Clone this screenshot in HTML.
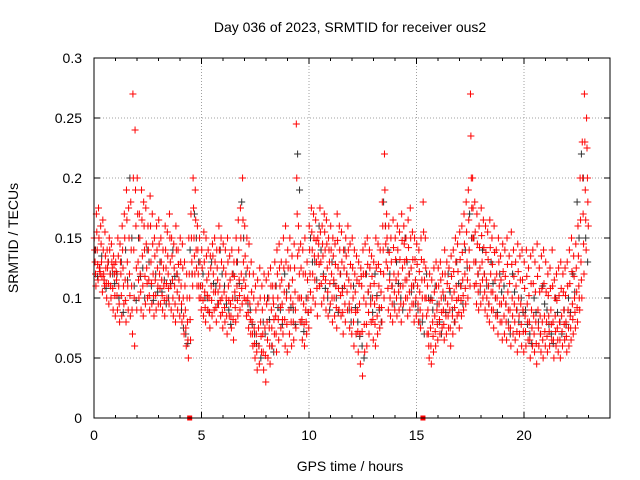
<!DOCTYPE html>
<html><head><meta charset="utf-8"><style>
html,body{margin:0;padding:0;background:#fff;}
svg{display:block;font-family:"Liberation Sans",sans-serif;}
</style></head><body>
<svg id="chart" width="640" height="480">
<text x="350" y="32" font-size="14" text-anchor="middle">Day 036 of 2023, SRMTID for receiver ous2</text>
<text x="350" y="471" font-size="14" text-anchor="middle">GPS time / hours</text>
<text transform="translate(18,238) rotate(-90)" font-size="14" text-anchor="middle">SRMTID / TECUs</text>
<g id="grid"></g><g id="ticks"></g><g id="black"></g><g id="red"></g>
<rect x="94" y="58" width="516" height="360" fill="none" stroke="#000" stroke-width="1"/>
</svg>
<script>
const xTicks=[0,5,10,15,20];
const yTicks=[0,0.05,0.1,0.15,0.2,0.25,0.3];
const yTickLabels=["0","0.05","0.1","0.15","0.2","0.25","0.3"];
const redStep=0.1;
const redA=[150,170,175,160,165,155,140,150,145,135,130,150,145,160,170,190,175,180,270,240,200,170,190,180,175,160,185,170,150,160,165,150,140,160,155,170,150,145,160,140,150,145,130,120,150,170,200,190,160,150,140,155,150,140,135,145,150,140,160,150,145,140,150,135,140,130,150,165,175,200,160,150,145,130,120,110,115,125,110,120,115,120,125,110,130,140,145,130,150,160,140,150,135,145,245,160,145,140,150,130,160,175,170,165,150,175,160,170,165,150,160,150,145,170,160,155,140,150,160,145,150,140,135,130,125,140,145,150,140,135,130,150,145,140,180,220,170,160,150,165,150,160,155,170,160,150,165,175,155,150,145,140,150,180,150,110,120,115,125,130,125,130,120,140,130,125,135,140,150,145,155,160,170,180,190,270,200,180,170,160,175,165,160,155,165,150,160,140,150,135,145,140,150,135,155,140,130,145,135,140,130,140,125,135,140,130,145,125,135,140,130,120,125,140,115,120,125,130,120,125,130,140,150,135,145,160,200,230,270,250];
const redD=[140,155,150,145,140,135,125,140,130,128,122,135,130,140,150,165,150,140,200,190,170,150,165,160,145,140,160,145,135,140,145,130,125,140,135,150,135,125,140,128,130,125,110,100,120,150,175,165,140,130,125,130,135,120,125,135,130,125,140,130,125,120,130,115,120,118,130,140,150,165,135,125,120,105,100,90,95,100,90,100,95,100,110,100,110,120,125,115,125,130,125,125,115,125,200,140,125,120,120,115,140,155,150,148,135,155,145,155,145,140,140,135,128,148,140,130,125,135,140,128,125,120,115,112,118,120,120,128,125,118,112,125,128,122,160,190,150,138,130,142,132,140,132,148,145,132,142,150,132,132,128,122,132,155,125,90,98,98,105,110,110,115,105,120,112,108,118,122,130,122,132,138,145,155,165,235,175,155,145,142,152,142,138,132,142,128,138,120,130,115,122,118,128,112,128,118,110,122,115,115,108,118,102,112,112,105,118,105,108,112,105,102,108,110,100,98,102,108,105,102,110,112,122,118,125,135,165,200,230,225];
const redB=[130,140,125,130,120,125,130,120,125,120,115,110,120,125,115,130,120,110,140,160,130,120,135,140,125,115,130,120,115,125,120,115,110,125,120,130,115,110,120,115,110,100,90,80,100,130,150,140,120,110,110,105,115,100,110,120,105,115,110,100,105,100,110,95,100,105,110,115,120,130,110,100,95,80,75,70,75,80,70,75,80,75,90,95,85,100,110,95,105,100,110,100,95,105,170,120,100,95,90,100,120,140,135,130,145,130,135,140,125,130,120,115,110,125,120,105,110,120,115,110,100,105,90,95,110,100,95,105,110,100,95,100,110,105,140,160,125,115,110,120,115,120,110,125,130,115,120,125,110,115,110,105,115,130,100,70,75,80,85,90,95,100,90,100,95,90,100,105,110,100,110,115,120,130,140,200,150,130,120,125,130,120,115,110,120,105,115,100,110,95,100,95,105,90,100,95,90,100,95,90,85,95,80,90,85,80,90,85,80,85,80,85,90,80,85,75,80,85,90,80,90,85,95,100,105,110,130,170,190,200];
const redE=[120,128,122,118,115,112,112,110,108,102,102,95,102,110,98,110,102,90,100,125,115,105,110,118,112,102,112,102,102,110,108,102,98,112,108,110,100,95,105,100,95,85,75,65,82,120,135,125,110,100,98,92,102,88,98,105,92,105,98,88,92,85,98,85,82,92,98,102,108,115,98,88,82,70,62,55,60,68,55,52,65,60,75,82,70,82,92,82,82,78,90,80,80,90,135,100,82,78,80,88,105,120,115,108,128,112,118,115,105,112,100,100,92,108,102,88,95,105,95,90,80,88,72,70,72,78,78,88,95,82,78,85,92,92,120,145,108,100,95,105,100,105,95,110,115,100,105,110,95,100,95,90,100,115,85,60,60,68,72,78,82,88,78,85,85,75,85,92,98,88,98,102,108,115,125,175,130,112,105,110,115,105,100,95,105,90,100,85,95,80,85,80,90,75,85,80,72,85,78,72,72,80,65,75,70,62,75,70,65,72,68,72,78,65,72,65,65,72,78,68,75,75,82,88,92,100,115,145,165,180];
const redC=[110,115,120,105,110,100,95,100,90,85,90,80,85,95,80,90,85,70,60,90,100,90,85,95,100,90,95,85,90,95,95,90,85,100,95,90,85,80,90,85,80,70,60,50,65,110,120,110,100,90,85,80,90,75,85,90,80,95,85,75,80,70,85,75,65,80,85,90,95,100,85,75,70,60,50,40,45,55,40,30,50,45,60,70,55,65,75,70,60,55,70,60,65,75,100,80,65,60,70,75,90,100,95,85,110,95,100,90,85,95,80,85,75,90,85,70,80,90,75,70,60,70,55,45,35,55,60,70,80,65,60,70,75,80,100,130,90,85,80,90,85,90,80,95,100,85,90,95,80,85,80,75,85,100,70,50,45,55,60,65,70,75,65,70,75,60,70,80,85,75,85,90,95,100,110,150,110,95,90,95,100,90,85,80,90,75,85,70,80,65,70,65,75,60,70,65,55,70,60,55,60,65,50,60,55,45,60,55,50,60,55,60,65,50,60,55,50,60,65,55,60,65,70,75,80,90,100,120,140,160];
const blackStep=0.2;
const blackV=[140,125,115,130,120,120,130,140,200,110,150,125,140,110,120,130,115,100,140,120,90,70,140,170,130,120,100,130,110,140,110,90,120,130,180,120,90,70,60,80,100,60,110,90,120,110,90,220,80,100,150,130,160,120,100,130,100,120,140,90,110,80,60,120,100,120,90,180,140,110,130,100,150,120,110,90,80,120,100,110,80,100,120,90,130,110,140,170,150,120,140,110,130,100,120,110,80,120,90,100,90,70,100,80,110,90,70,100,80,90,100,120,180,220,150];
const blackW=[118,135,108,120,112,100,88,115,150,98,118,100,130,98,105,105,95,112,118,100,75,62,120,150,110,100,88,112,95,120,95,78,100,112,150,95,78,62,50,70,82,55,92,78,105,92,78,190,72,88,130,115,140,108,90,112,88,108,120,80,92,68,50,105,88,102,80,160,120,95,112,90,130,105,95,80,70,100,90,95,70,88,105,80,112,95,125,150,130,105,120,95,112,88,105,95,70,105,80,88,78,62,88,70,95,78,62,88,70,78,88,105,150,200,130];
const markerTimes=[4.45,15.3];

const NS="http://www.w3.org/2000/svg";
const X0=94,X1=610,Y0=418,Y1=58;
const xs=t=>X0+(t/24)*(X1-X0);
const ys=v=>Y0-(v/0.3)*(Y0-Y1);
function mk(tag,attrs,parent){const e=document.createElementNS(NS,tag);for(const k in attrs)e.setAttribute(k,attrs[k]);parent.appendChild(e);return e;}
const grid=document.getElementById('grid'),ticks=document.getElementById('ticks');
xTicks.forEach(t=>{
  const x=xs(t);
  if(t>0){const g=mk('line',{x1:x,x2:x,y1:Y0,y2:Y1,stroke:'#a0a0a0','stroke-dasharray':'1,2'},grid);
  
  }
  mk('line',{x1:x,x2:x,y1:Y0,y2:Y0-6,stroke:'#000'},ticks);
  mk('line',{x1:x,x2:x,y1:Y1,y2:Y1+6,stroke:'#000'},ticks);
  const l=mk('text',{x:x,y:Y0+22,'font-size':14,'text-anchor':'middle'},ticks);l.textContent=t;
  
  
});
yTicks.forEach((v,i)=>{
  const y=ys(v);
  if(v>0&&v<0.3){const g=mk('line',{x1:X0,x2:X1,y1:y,y2:y,stroke:'#a0a0a0','stroke-dasharray':'1,2'},grid);
  
  }
  mk('line',{x1:X0,x2:X0+6,y1:y,y2:y,stroke:'#000'},ticks);
  mk('line',{x1:X1,x2:X1-6,y1:y,y2:y,stroke:'#000'},ticks);
  const l=mk('text',{x:X0-12,y:y+5,'font-size':14,'text-anchor':'end'},ticks);l.textContent=yTickLabels[i];
  
  
});
for(let t=1;t<24;t++){if(t%5){const x=xs(t);mk('line',{x1:x,x2:x,y1:Y0,y2:Y0-3,stroke:'#000'},ticks);mk('line',{x1:x,x2:x,y1:Y1,y2:Y1+3,stroke:'#000'},ticks);}}
function plus(g,t,v,color,name){
  const x=xs(t),y=ys(v);
  const p=mk('path',{d:`M${x-3.5},${y}h7M${x},${y-3.5}v7`,stroke:color,'stroke-width':1},g);
  
  
}
const bg=document.getElementById('black'),rg=document.getElementById('red');
blackV.forEach((v,i)=>plus(bg,i*blackStep+0.07,v/1000,'#303030','black-point'));
blackW.forEach((v,i)=>plus(bg,i*blackStep+0.16,v/1000,'#303030','black-point'));
redA.forEach((v,i)=>plus(rg,i*redStep+0.01,v/1000,'#ff0000','red-point'));
redD.forEach((v,i)=>plus(rg,i*redStep+0.03,v/1000,'#ff0000','red-point'));
redB.forEach((v,i)=>plus(rg,i*redStep+0.05,v/1000,'#ff0000','red-point'));
redE.forEach((v,i)=>plus(rg,i*redStep+0.07,v/1000,'#ff0000','red-point'));
redC.forEach((v,i)=>plus(rg,i*redStep+0.09,v/1000,'#ff0000','red-point'));
markerTimes.forEach(t=>{
  const r=mk('rect',{x:xs(t)-2.5,y:Y0-2.5,width:5,height:5,fill:'#ff0000'},rg);
  
  
});
</script>
</body></html>
